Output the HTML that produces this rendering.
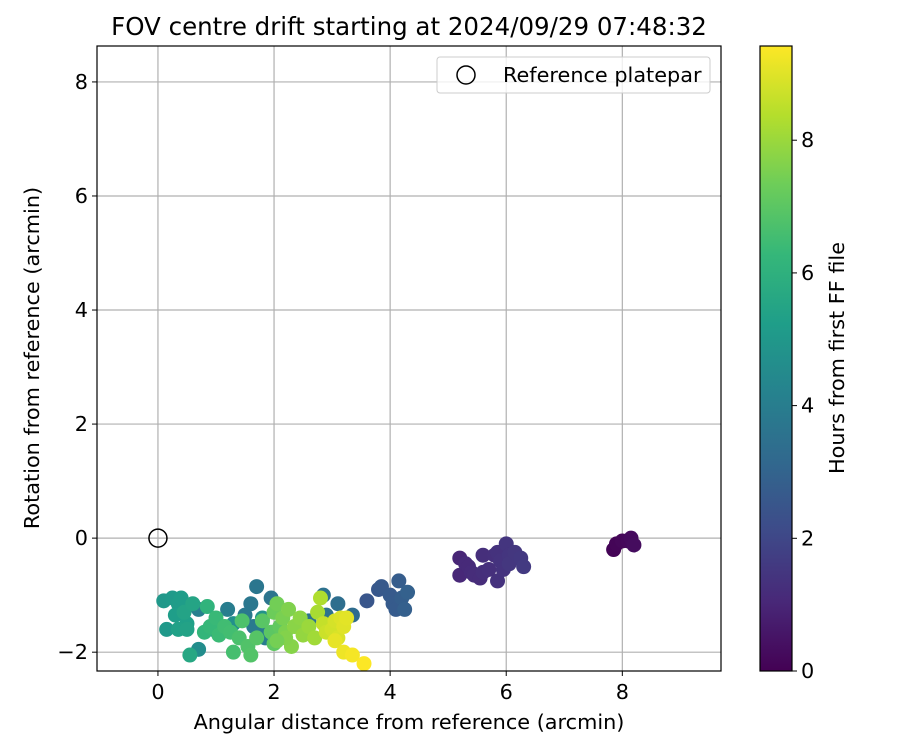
<!DOCTYPE html>
<html><head><meta charset="utf-8"><style>
body{margin:0;background:#fff}
svg{display:block;font-family:"DejaVu Sans","Liberation Sans",sans-serif}
</style></head><body>
<svg id="chart" width="900" height="750" xmlns="http://www.w3.org/2000/svg">
<defs><linearGradient id="vir" x1="0" y1="1" x2="0" y2="0"></linearGradient></defs>
<text x="409" y="35" font-size="24.5" text-anchor="middle">FOV centre drift starting at 2024/09/29 07:48:32</text>
<g id="grid"></g>
<g id="pts"></g>
<g id="axes"></g>
<text x="409" y="729" font-size="20.8" text-anchor="middle">Angular distance from reference (arcmin)</text>
<text transform="translate(39,358) rotate(-90)" font-size="20.8" text-anchor="middle">Rotation from reference (arcmin)</text>
<g>
<rect x="437" y="57" width="273" height="36" rx="3" fill="#fff" fill-opacity="0.8" stroke="#ccc"/>
<circle cx="466" cy="75" r="9" fill="none" stroke="#000" stroke-width="1.5"/>
<text x="503" y="82" font-size="20.8">Reference platepar</text>
</g>
<g id="cbar"></g>
<text transform="translate(844,358) rotate(-90)" font-size="20.8" text-anchor="middle">Hours from first FF file</text>
</svg>
<script>
const xs=[7.85,7.9,8.0,8.1,8.15,8.2,
5.2,5.2,5.3,5.35,5.4,5.45,5.55,5.6,5.6,5.7,5.8,5.85,5.85,5.9,5.95,6.0,6.05,6.05,6.15,6.25,6.3,
3.6,3.8,3.85,4.0,4.05,4.1,4.15,4.2,4.25,4.3,
3.35,3.1,2.85,2.9,2.6,1.95,1.7,1.6,1.5,1.65,1.75,1.85,1.2,0.95,0.7,
0.7,1.3,1.8,0.1,0.15,0.25,0.35,0.4,0.3,0.5,0.35,0.5,0.45,0.6,0.55,
0.85,0.8,0.9,1.0,1.05,1.15,1.25,1.3,1.4,1.45,1.55,1.6,1.7,1.8,1.95,2.0,2.1,
2.0,2.05,2.15,2.2,2.25,2.3,2.35,2.45,2.5,2.6,2.7,2.75,2.8,2.2,2.05,
2.85,2.9,3.0,3.05,3.1,3.15,3.2,3.25,3.05,3.2,3.35,3.55];
const ys=[-0.2,-0.1,-0.05,-0.05,0.0,-0.12,
-0.35,-0.65,-0.45,-0.5,-0.6,-0.65,-0.7,-0.3,-0.6,-0.55,-0.3,-0.25,-0.75,-0.4,-0.55,-0.1,-0.3,-0.45,-0.25,-0.35,-0.5,
-1.1,-0.9,-0.85,-1.0,-1.15,-1.25,-0.75,-1.05,-1.25,-0.95,
-1.35,-1.15,-1.0,-1.35,-1.45,-1.05,-0.85,-1.15,-1.35,-1.55,-1.6,-1.75,-1.25,-1.6,-1.25,
-1.95,-1.5,-1.4,-1.1,-1.6,-1.05,-1.15,-1.05,-1.35,-1.5,-1.6,-1.6,-1.3,-1.15,-2.05,
-1.2,-1.65,-1.55,-1.4,-1.7,-1.55,-1.65,-2.0,-1.75,-1.45,-1.9,-2.05,-1.75,-1.45,-1.65,-1.85,-1.55,
-1.3,-1.15,-1.4,-1.65,-1.25,-1.9,-1.55,-1.4,-1.7,-1.55,-1.75,-1.3,-1.05,-1.75,-1.8,
-1.5,-1.65,-1.6,-1.45,-1.75,-1.4,-1.55,-1.4,-1.8,-2.0,-2.05,-2.2];
const hours=[0.05,0.1,0.15,0.2,0.25,0.3,
1.0,1.05,1.1,1.1,1.15,1.2,1.2,1.25,1.25,1.3,1.3,1.35,1.35,1.4,1.4,1.45,1.45,1.5,1.5,1.55,1.6,
2.5,2.55,2.6,2.65,2.7,2.7,2.75,2.8,2.85,2.9,
3.3,3.4,3.5,3.55,3.6,3.65,3.7,3.75,3.8,3.85,3.9,3.95,4.0,4.05,4.1,
4.6,4.7,4.8,5.0,5.05,5.1,5.15,5.2,5.25,5.3,5.35,5.4,5.45,5.5,5.6,
6.1,6.2,6.3,6.35,6.4,6.5,6.55,6.6,6.7,6.75,6.8,6.85,6.9,6.95,7.0,7.05,7.1,
7.3,7.4,7.5,7.55,7.6,7.7,7.75,7.8,7.9,8.0,8.1,8.2,8.3,7.65,7.45,
8.6,8.7,8.8,8.85,8.9,8.95,9.0,9.05,9.1,9.2,9.3,9.4];
const xTicks=[0,2,4,6,8], yTicks=[-2,0,2,4,6,8], cTicks=[0,2,4,6,8];
const X0=97,X1=721,Y0=46,Y1=671,xmin=-1.05,xmax=9.7,ymin=-2.33,ymax=8.63,cmax=9.42;
const sx=v=>X0+(v-xmin)/(xmax-xmin)*(X1-X0);
const sy=v=>Y1-(v-ymin)/(ymax-ymin)*(Y1-Y0);
const vir=[[68,1,84],[72,40,120],[62,74,137],[49,104,142],[38,130,142],[31,158,137],[53,183,121],[109,205,89],[180,222,44],[253,231,37]];
function cmap(t){t=Math.max(0,Math.min(1,t))*(vir.length-1);const i=Math.min(Math.floor(t),vir.length-2),f=t-i;const c=vir[i].map((a,k)=>Math.round(a+(vir[i+1][k]-a)*f));return `rgb(${c})`;}
const NS="http://www.w3.org/2000/svg";
function mk(tag,attrs,parent,txt){const e=document.createElementNS(NS,tag);for(const k in attrs)e.setAttribute(k,attrs[k]);if(txt!==undefined)e.textContent=txt;parent.appendChild(e);return e;}
const grid=document.getElementById('grid'),axes=document.getElementById('axes'),pts=document.getElementById('pts'),cb=document.getElementById('cbar');
xTicks.forEach(v=>{const x=sx(v);
const g=mk('line',{x1:x,x2:x,y1:Y0,y2:Y1,stroke:'#b0b0b0','stroke-width':1.2},grid);


mk('line',{x1:x,x2:x,y1:Y1,y2:Y1+5,stroke:'#000'},axes);
const t=mk('text',{x:x,y:Y1+28,'font-size':20.8,'text-anchor':'middle'},axes,v);

});
yTicks.forEach(v=>{const y=sy(v);
const g=mk('line',{x1:X0,x2:X1,y1:y,y2:y,stroke:'#b0b0b0','stroke-width':1.2},grid);


mk('line',{x1:X0-5,x2:X0,y1:y,y2:y,stroke:'#000'},axes);
const t=mk('text',{x:X0-9,y:y+7,'font-size':20.8,'text-anchor':'end'},axes,v<0?'\u2212'+(-v):v);

});
const fr=mk('rect',{x:X0,y:Y0,width:X1-X0,height:Y1-Y0,fill:'none',stroke:'#000','stroke-width':1.2},axes);


xs.forEach((v,i)=>{const c=mk('circle',{cx:sx(v),cy:sy(ys[i]),r:7.5,fill:cmap(hours[i]/cmax)},pts);

});
const ref=mk('circle',{cx:sx(0),cy:sy(0),r:9,fill:'none',stroke:'#000','stroke-width':1.5},pts);


const grad=document.getElementById('vir');
vir.forEach((c,i)=>mk('stop',{offset:i/(vir.length-1),'stop-color':`rgb(${c})`},grad));
const CX=760,CW=32;
const cr=mk('rect',{x:CX,y:Y0,width:CW,height:Y1-Y0,fill:'url(#vir)',stroke:'#000','stroke-width':1.2},cb);


cTicks.forEach(v=>{const y=Y1-v/cmax*(Y1-Y0);
mk('line',{x1:CX+CW,x2:CX+CW+5,y1:y,y2:y,stroke:'#000'},cb);
const t=mk('text',{x:CX+CW+9,y:y+7,'font-size':20.8},cb,v);

});
</script>
</body></html>
